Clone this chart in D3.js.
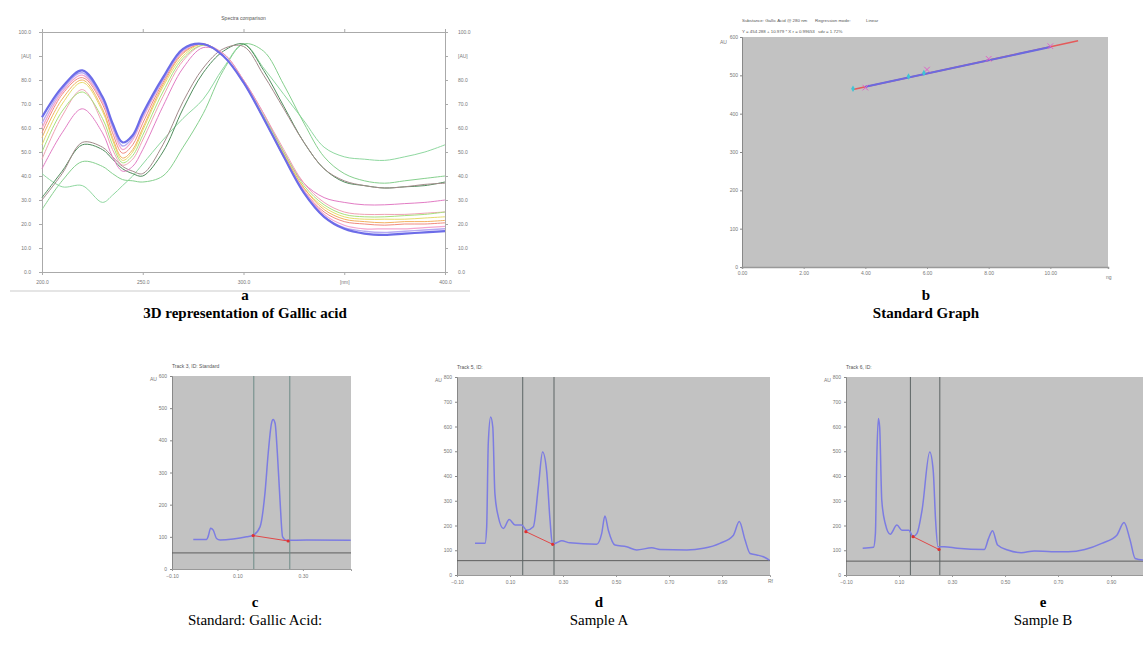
<!DOCTYPE html>
<html>
<head>
<meta charset="utf-8">
<script src="https://cdn.jsdelivr.net/npm/d3@7"></script>
<style>
body { margin: 0; background: #fff; }
svg { display: block; font-family: "Liberation Sans", Arial, sans-serif; }
.cap { font-family: "Liberation Serif", "Times New Roman", serif; font-size: 15px; fill: #000; }
.tiny { font-size: 5px; fill: #777; }
.small { font-size: 4.4px; fill: #555; }
</style>
</head>
<body>
<svg id="chart" width="1143" height="662"></svg>
<script>
// ---- panel a: spectra comparison ----
const wavelengths = [200, 210, 220, 230, 235, 240, 245, 250, 260, 270, 280, 290, 300, 310, 320, 330, 340, 350, 360, 370, 380, 390, 400]
const specBlue     = [64.5, 77, 84, 73, 62, 54, 57, 66, 81, 93, 95, 90, 79, 64, 48, 33, 23, 18, 16, 15.5, 16, 16.5, 17]
const specLavender = [62, 76, 83, 72, 61, 52.5, 56, 65, 80, 92.5, 95, 90, 79, 64, 48, 33, 23, 18.5, 17, 16.5, 17, 17.5, 18]
const specPink     = [60, 75, 82, 71, 60, 51, 55, 64, 80, 92, 95, 90, 79, 64, 48, 34, 24, 19.5, 18, 18, 18, 18.5, 19]
const specSalmon   = [58, 74, 81, 70, 58, 49.5, 53, 62, 79, 91.5, 95, 90, 79, 64, 48, 34, 25, 21, 20, 19.5, 20, 20, 20.5]
const specOrange   = [56, 72, 80, 68, 56, 47.5, 51, 60, 78, 91, 95, 90, 79, 64, 49, 35, 26, 22, 21, 20.5, 21, 21, 21.5]
const specYellow   = [53, 70, 79, 67, 55, 46.5, 50, 59, 77, 90, 95, 90, 79, 64, 49, 35, 27, 23, 22, 22, 22, 22.5, 23]
const specLime     = [50, 67, 75, 64, 53, 45.5, 48.5, 57, 75, 89, 94.5, 90, 79, 65, 50, 36, 28, 24, 23, 23, 23.5, 24, 25]
const specRose     = [47, 65, 76, 62, 51, 44.5, 47, 55, 73, 88, 94.5, 91, 80, 66, 51, 37, 29, 25, 24, 24, 24, 24.5, 25]
const specMagenta  = [43, 58, 68, 58, 48, 42, 44, 51, 69, 85, 93.5, 91, 80, 66, 50, 37, 31, 29, 28, 28, 28.5, 29, 30]
const specBrown    = [30, 41, 54, 52, 48, 44, 42, 41, 53, 71, 85, 93, 94, 82, 68, 54, 43, 38, 36, 35, 35.5, 36.5, 37]
const specDkGreen  = [31, 42, 53, 51, 47, 43, 41, 40, 50, 68, 83, 92, 95, 84, 69, 54, 43, 37.5, 36, 35, 35.5, 36, 37.5]
const specLtGreen  = [26, 38, 46, 44, 41, 38.5, 38, 37.5, 40, 52, 66, 84, 95, 92, 78, 62, 48, 41, 38, 37, 38, 39, 40]
const specMint     = [41, 35.5, 36, 29, 32, 36, 40, 45, 55, 64, 72, 85, 95, 85, 74, 63, 52, 48, 47, 46.5, 48, 50, 53]

const spectra = [specMint, specLtGreen, specDkGreen, specBrown, specMagenta, specRose, specLime,
    specYellow, specOrange, specSalmon, specPink, specLavender, specBlue]
const specColors = ['#8fd8a0', '#86d08e', '#4f8c5c', '#a28a8a', '#e27cc4', '#f0a2b4', '#a8e07c',
    '#e6dc6a', '#f2b060', '#f08a80', '#f4a6d0', '#b6aaf2', '#6c6ce8']
const specWidths = [1, 1, 1, 1, 1, 1, 1, 1, 1, 1, 1.2, 1.4, 2.2]

const aYTicks = [0, 10, 20, 30, 40, 50, 60, 70, 80, 90, 100]
const aYLabels = ['0.0', '10.0', '20.0', '30.0', '40.0', '50.0', '60.0', '70.0', '80.0', '[AU]', '100.0']
const aXTicks = [200, 250, 300, 350, 400]
const aXLabels = ['200.0', '250.0', '300.0', '[nm]', '400.0']

// ---- panel b: standard graph ----
const stdAmount = [4, 6, 8, 10]
const stdArea = [468, 515, 543, 576]
const chkAmount = [3.6, 5.4, 5.9]
const chkArea = [465, 497, 506]
const regRedX = [3.6, 10.9]
const regRedY = [463, 590]
const regBlueX = [4, 10]
const regBlueY = [470, 574]
const bYTicks = [0, 100, 200, 300, 400, 500, 600]
const bXTicks = [0, 2, 4, 6, 8, 10]

// ---- panels c, d, e: densitograms ----
const cRf = [-0.035, 0.006, 0.011, 0.018, 0.026, 0.036, 0.047, 0.087, 0.128, 0.148, 0.169, 0.184, 0.194, 0.204, 0.209, 0.215, 0.222, 0.230, 0.238, 0.250, 0.311, 0.446]
const cAu = [92, 92, 103, 127, 121, 95, 90, 93, 100, 105, 131, 235, 360, 453, 465, 453, 360, 215, 100, 89, 90, 89]
const dRf = [-0.032, 0.006, 0.012, 0.018, 0.027, 0.035, 0.043, 0.056, 0.075, 0.097, 0.119, 0.144, 0.163, 0.188, 0.207, 0.223, 0.238, 0.251, 0.260, 0.276, 0.295, 0.326, 0.427, 0.446, 0.458, 0.471, 0.496, 0.540, 0.578, 0.635, 0.666, 0.767, 0.830, 0.892, 0.943, 0.965, 0.987, 1.006, 1.031, 1.056, 1.079]
const dAu = [128, 128, 195, 531, 638, 598, 329, 235, 188, 224, 202, 202, 181, 195, 356, 497, 423, 222, 125, 130, 138, 130, 124, 168, 238, 181, 121, 114, 101, 110, 103, 101, 108, 128, 161, 216, 141, 87, 81, 74, 60]
const eRf = [-0.037, 0.004, 0.011, 0.016, 0.022, 0.027, 0.035, 0.048, 0.067, 0.092, 0.111, 0.137, 0.153, 0.168, 0.187, 0.216, 0.229, 0.238, 0.247, 0.270, 0.320, 0.422, 0.438, 0.453, 0.472, 0.510, 0.561, 0.611, 0.675, 0.738, 0.801, 0.865, 0.922, 0.949, 0.972, 0.991, 1.028, 1.08]
const eAu = [108, 112, 168, 464, 632, 598, 302, 208, 165, 202, 181, 181, 155, 168, 262, 497, 423, 222, 114, 114, 108, 103, 148, 179, 121, 101, 90, 97, 94, 94, 103, 128, 161, 212, 141, 67, 60, 58]
const cBase = [[0.148, 104], [0.255, 87]]
const dBase = [[0.160, 175], [0.261, 124]]
const eBase = [[0.153, 155], [0.251, 103]]
const cCuts = [0.150, 0.260]
const dCuts = [0.148, 0.266]
const eCuts = [0.143, 0.254]
const rfTicks = [-0.1, 0.1, 0.3, 0.5, 0.7, 0.9]

const captionLetters = ['a', 'b', 'c', 'd', 'e']
const captionTexts = ['3D representation of Gallic acid', 'Standard Graph', 'Standard: Gallic Acid:', 'Sample A', 'Sample B']

const svg = d3.select('#chart')

function styleAxis(g, col) {
    g.select('.domain').attr('stroke', col)
    g.selectAll('.tick line').attr('stroke', col)
    g.selectAll('.tick text').attr('class', 'tiny').attr('font-family', null).attr('font-size', null)
}

// ===== panel a =====
{
    const L = 42, R = 445, T = 32, B = 272
    const x = d3.scaleLinear().domain([200, 400]).range([L, R])
    const y = d3.scaleLinear().domain([0, 100]).range([B, T])
    const g = svg.append('g')

    g.append('line').attr('x1', 10).attr('x2', 470).attr('y1', 291).attr('y2', 291)
        .attr('stroke', '#dcdcdc').attr('stroke-width', 1.5)

    g.append('text').attr('class', 'tiny').attr('x', (L + R) / 2).attr('y', 20)
        .attr('text-anchor', 'middle').style('fill', '#555').text('Spectra comparison')

    const left = g.append('g').attr('transform', `translate(${L},0)`)
        .call(d3.axisLeft(y).tickValues(aYTicks).tickFormat((d, i) => aYLabels[i]).tickSize(3).tickPadding(8))
    styleAxis(left, '#aaa')
    const right = g.append('g').attr('transform', `translate(${R},0)`)
        .call(d3.axisRight(y).tickValues(aYTicks).tickFormat((d, i) => aYLabels[i]).tickSize(3).tickPadding(10))
    styleAxis(right, '#aaa')
    const bottom = g.append('g').attr('transform', `translate(0,${B})`)
        .call(d3.axisBottom(x).tickValues(aXTicks).tickFormat((d, i) => aXLabels[i]).tickSize(3).tickPadding(5))
    styleAxis(bottom, '#aaa')
    const top = g.append('g').attr('transform', `translate(0,${T})`)
        .call(d3.axisTop(x).tickValues(aXTicks).tickFormat('').tickSize(3))
    styleAxis(top, '#aaa')

    const line = d3.line().x((d, i) => x(wavelengths[i])).y(d => y(d)).curve(d3.curveCatmullRom)
    spectra.forEach((s, k) => {
        g.append('path').datum(s).attr('d', line)
            .attr('fill', 'none').attr('stroke', specColors[k]).attr('stroke-width', specWidths[k])
    })
}

// ===== panel b =====
{
    const L = 742, R = 1108, T = 37, B = 267
    const x = d3.scaleLinear().domain([0, 11.87]).range([L, R])
    const y = d3.scaleLinear().domain([0, 600]).range([B, T])
    const g = svg.append('g')

    g.append('rect').attr('x', L).attr('y', T).attr('width', R - L).attr('height', B - T).attr('fill', '#c2c2c2')

    g.append('text').attr('class', 'small').attr('x', L).attr('y', 22).text('Substance: Gallic Acid @ 280 nm')
    g.append('text').attr('class', 'small').attr('x', 815).attr('y', 22).text('Regression mode:')
    g.append('text').attr('class', 'small').attr('x', 866).attr('y', 22).text('Linear')
    g.append('text').attr('class', 'small').attr('x', L).attr('y', 33).text('Y = 454.288 + 10.979 * X   r = 0.99653')
    g.append('text').attr('class', 'small').attr('x', 818).attr('y', 33).text('sdv = 1.72%')
    g.append('text').attr('class', 'tiny').attr('x', 720).attr('y', 44).text('AU')
    g.append('text').attr('class', 'tiny').attr('x', 1106).attr('y', 279).text('ng')

    const left = g.append('g').attr('transform', `translate(${L},0)`)
        .call(d3.axisLeft(y).tickValues(bYTicks).tickSize(2).tickPadding(2))
    styleAxis(left, '#888')
    const bottom = g.append('g').attr('transform', `translate(0,${B})`)
        .call(d3.axisBottom(x).tickValues(bXTicks).tickFormat(d3.format('.2f')).tickSize(2).tickPadding(2))
    styleAxis(bottom, '#999')
    bottom.select('.domain').attr('stroke-width', 1.5)

    const line = d3.line().x(d => x(d[0])).y(d => y(d[1]))
    g.append('path').datum(d3.zip(regRedX, regRedY)).attr('d', line)
        .attr('stroke', '#e45a5a').attr('stroke-width', 1.6).attr('fill', 'none')
    g.append('path').datum(d3.zip(regBlueX, regBlueY)).attr('d', line)
        .attr('stroke', '#6a6ae0').attr('stroke-width', 2).attr('fill', 'none')

    const cross = d3.symbol().type(d3.symbolX).size(22)
    g.selectAll('.std').data(d3.zip(stdAmount, stdArea)).join('path')
        .attr('transform', d => `translate(${x(d[0])},${y(d[1])})`)
        .attr('d', cross).attr('stroke', '#e060c8').attr('stroke-width', 1).attr('fill', 'none')
    g.selectAll('.chk').data(d3.zip(chkAmount, chkArea)).join('path')
        .attr('transform', d => `translate(${x(d[0])},${y(d[1])})`)
        .attr('d', d3.symbol().type(d3.symbolDiamond).size(12)).attr('fill', '#40c4d4')
}

// ===== panels c, d, e =====
function drawChrom(o) {
    const x = d3.scaleLinear().domain(o.xdom).range([o.L, o.R])
    const y = d3.scaleLinear().domain([0, o.ymax]).range([o.B, o.T])
    const g = svg.append('g')

    g.append('rect').attr('x', o.L).attr('y', o.T).attr('width', o.R - o.L).attr('height', o.B - o.T).attr('fill', '#c2c2c2')
    g.append('text').attr('class', 'tiny').attr('x', o.L).attr('y', o.T - 8).style('fill', '#555').text(o.title)
    g.append('text').attr('class', 'tiny').attr('x', o.L - 22).attr('y', o.T + 5).text('AU')
    if (o.unit) g.append('text').attr('class', 'tiny').attr('x', o.R - 2).attr('y', o.B + 8).text('Rf')

    const left = g.append('g').attr('transform', `translate(${o.L},0)`)
        .call(d3.axisLeft(y).ticks(o.ymax / 100).tickSize(2).tickPadding(3))
    styleAxis(left, '#888')
    const bottom = g.append('g').attr('transform', `translate(0,${o.B})`)
        .call(d3.axisBottom(x).tickValues(rfTicks.filter(v => v <= o.xdom[1])).tickFormat(d3.format('.2f')).tickSize(2).tickPadding(3))
    styleAxis(bottom, '#999')

    // baseline and integration limits
    g.append('line').attr('x1', o.L).attr('x2', o.R).attr('y1', y(o.floor)).attr('y2', y(o.floor))
        .attr('stroke', '#5e5e5e').attr('stroke-width', 1)
    o.cuts.forEach(c => {
        g.append('line').attr('x1', x(c)).attr('x2', x(c)).attr('y1', o.T).attr('y2', o.B)
            .attr('stroke', o.cutCol).attr('stroke-width', 1)
    })

    const line = d3.line().x(d => x(d[0])).y(d => y(d[1])).curve(d3.curveMonotoneX)
    g.append('path').datum(d3.zip(o.rf, o.au)).attr('d', line)
        .attr('fill', 'none').attr('stroke', '#7c7ce2').attr('stroke-width', 1.5)

    g.append('path').datum(o.base).attr('d', d3.line().x(d => x(d[0])).y(d => y(d[1])))
        .attr('stroke', '#e04848').attr('stroke-width', 1)
    g.selectAll('.bp').data(o.base).join('circle')
        .attr('cx', d => x(d[0])).attr('cy', d => y(d[1])).attr('r', 1.6).attr('fill', '#e03030')
}

drawChrom({ L: 172, R: 351, T: 376, B: 569, xdom: [-0.1, 0.447], ymax: 600, title: 'Track 3, ID: Standard',
    rf: cRf, au: cAu, base: cBase, cuts: cCuts, floor: 50, cutCol: '#6d8a86', unit: false })
drawChrom({ L: 457, R: 770, T: 377, B: 575, xdom: [-0.1, 1.081], ymax: 800, title: 'Track 5, ID:',
    rf: dRf, au: dAu, base: dBase, cuts: dCuts, floor: 58, cutCol: '#5c6464', unit: true })
drawChrom({ L: 846, R: 1159, T: 377, B: 575, xdom: [-0.1, 1.081], ymax: 800, title: 'Track 6, ID:',
    rf: eRf, au: eAu, base: eBase, cuts: eCuts, floor: 56, cutCol: '#5c6464', unit: false })

// ===== captions =====
const capX = [245, 926, 255, 599, 1043]
const capY = [300, 300, 607, 607, 607]
captionLetters.forEach((t, i) => {
    svg.append('text').attr('class', 'cap').attr('x', capX[i]).attr('y', capY[i])
        .attr('text-anchor', 'middle').attr('font-weight', 'bold').text(t)
    svg.append('text').attr('class', 'cap').attr('x', capX[i]).attr('y', capY[i] + 18)
        .attr('text-anchor', 'middle').attr('font-weight', i < 2 ? 'bold' : 'normal').text(captionTexts[i])
})
</script>
</body>
</html>
